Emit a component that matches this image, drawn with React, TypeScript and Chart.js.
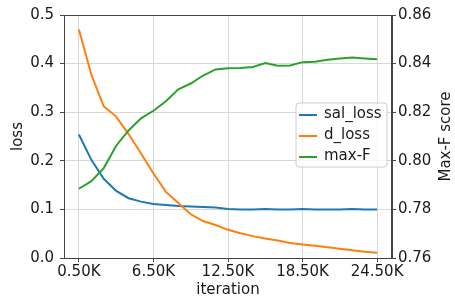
import React, { useEffect, useRef } from "react";
import { Chart, registerables } from "chart.js";

Chart.register(...registerables);

const iterations = [0.5, 1.5, 2.5, 3.5, 4.5, 5.5, 6.5, 7.5, 8.5, 9.5, 10.5, 11.5, 12.5, 13.5, 14.5, 15.5, 16.5, 17.5, 18.5, 19.5, 20.5, 21.5, 22.5, 23.5, 24.5];
const salLoss = [0.254, 0.202, 0.163, 0.138, 0.123, 0.116, 0.111, 0.109, 0.107, 0.106, 0.105, 0.104, 0.101, 0.100, 0.100, 0.101, 0.100, 0.100, 0.101, 0.100, 0.100, 0.100, 0.101, 0.100, 0.100];
const dLoss = [0.470, 0.377, 0.312, 0.291, 0.255, 0.215, 0.174, 0.136, 0.113, 0.090, 0.076, 0.068, 0.058, 0.051, 0.045, 0.040, 0.036, 0.031, 0.028, 0.025, 0.022, 0.019, 0.016, 0.013, 0.011];
const maxF = [0.7885, 0.7916, 0.797, 0.8062, 0.8125, 0.8175, 0.8206, 0.8245, 0.8294, 0.8318, 0.8351, 0.8376, 0.8381, 0.8382, 0.8386, 0.8402, 0.8391, 0.8392, 0.8406, 0.8408, 0.8416, 0.8421, 0.8425, 0.8421, 0.8418];
const xTicks = [0.5, 6.5, 12.5, 18.5, 24.5];
const seriesNames = ["sal_loss", "d_loss", "max-F"];
const colors = ["#1f77b4", "#ff7f0e", "#2ca02c"];

const FONT = "DejaVu Sans";
const TEXT = "#1a1a1a";
const SPINE = "#444";
const GRID = "#d8d8d8";

const pts = (ys: number[]) => ys.map((y, i) => ({ x: iterations[i], y }));

const decor = {
  id: "decor",
  afterDraw(chart: any) {
    const ctx = chart.ctx;
    const a = chart.chartArea;
    ctx.save();
    // frame
    ctx.strokeStyle = SPINE;
    ctx.lineWidth = 1;
    ctx.strokeRect(a.left + 0.5, a.top + 0.5, a.right - a.left - 1, a.bottom - a.top);
    // axis titles
    ctx.fillStyle = TEXT;
    ctx.font = `15px "${FONT}"`;
    ctx.textAlign = "center";
    ctx.textBaseline = "middle";
    const cy = (a.top + a.bottom) / 2;
    ctx.save();
    ctx.translate(18, cy);
    ctx.rotate(-Math.PI / 2);
    ctx.fillText("loss", 0, 0);
    ctx.restore();
    ctx.save();
    ctx.translate(446, cy);
    ctx.rotate(-Math.PI / 2);
    ctx.fillText("Max-F score", 0, 0);
    ctx.restore();
    ctx.fillText("iteration", (a.left + a.right) / 2, 290);
    // legend
    const lx = 296, ly = 103, lw = 91, lh = 64, r = 3;
    ctx.beginPath();
    ctx.moveTo(lx + r, ly);
    ctx.lineTo(lx + lw - r, ly);
    ctx.quadraticCurveTo(lx + lw, ly, lx + lw, ly + r);
    ctx.lineTo(lx + lw, ly + lh - r);
    ctx.quadraticCurveTo(lx + lw, ly + lh, lx + lw - r, ly + lh);
    ctx.lineTo(lx + r, ly + lh);
    ctx.quadraticCurveTo(lx, ly + lh, lx, ly + lh - r);
    ctx.lineTo(lx, ly + r);
    ctx.quadraticCurveTo(lx, ly, lx + r, ly);
    ctx.closePath();
    ctx.fillStyle = "rgba(255,255,255,0.8)";
    ctx.fill();
    ctx.strokeStyle = "#cccccc";
    ctx.lineWidth = 1;
    ctx.stroke();
    ctx.textAlign = "left";
    ctx.textBaseline = "middle";
    seriesNames.forEach((name, i) => {
      const y = 115 + i * 21;
      ctx.strokeStyle = colors[i];
      ctx.lineWidth = 2;
      ctx.beginPath();
      ctx.moveTo(299, y);
      ctx.lineTo(317, y);
      ctx.stroke();
      ctx.fillStyle = TEXT;
      ctx.fillText(name, 324, y - 1);
    });
    ctx.restore();
  },
};

export default function App() {
  const ref = useRef<HTMLCanvasElement>(null);
  useEffect(() => {
    document.body.style.margin = "0";
    const chart = new Chart(ref.current as HTMLCanvasElement, {
      type: "line",
      data: {
        datasets: [
          { label: seriesNames[0], data: pts(salLoss), borderColor: colors[0], yAxisID: "y", order: 2 },
          { label: seriesNames[1], data: pts(dLoss), borderColor: colors[1], yAxisID: "y", order: 1 },
          { label: seriesNames[2], data: pts(maxF), borderColor: colors[2], yAxisID: "y2", order: 0 },
        ].map((d) => ({ ...d, borderWidth: 2, pointRadius: 0, tension: 0, fill: false })),
      },
      options: {
        responsive: false,
        animation: false,
        devicePixelRatio: 1,
        layout: { padding: { top: 11, left: 0, right: 0, bottom: 0 } },
        plugins: { legend: { display: false }, tooltip: { enabled: false } },
        scales: {
          x: {
            type: "linear",
            min: -0.7,
            max: 25.7,
            afterBuildTicks: (s: any) => {
              s.ticks = xTicks.map((v) => ({ value: v }));
            },
            afterFit: (s: any) => {
              s.height = 42;
            },
            ticks: {
              callback: (v: any) => Number(v).toFixed(2) + "K",
              font: { family: FONT, size: 15 },
              color: TEXT,
              padding: 1,
              maxRotation: 0,
              autoSkip: false,
            },
            grid: { color: GRID, tickColor: SPINE, tickLength: 4, lineWidth: 1 },
            border: { color: SPINE, width: 1 },
          },
          y: {
            position: "left",
            min: 0,
            max: 0.5,
            afterFit: (s: any) => {
              s.width = 64;
            },
            ticks: {
              stepSize: 0.1,
              callback: (v: any) => Number(v).toFixed(1),
              font: { family: FONT, size: 15 },
              color: TEXT,
              padding: 6,
            },
            grid: { color: GRID, tickColor: SPINE, tickLength: 4, lineWidth: 1 },
            border: { color: SPINE, width: 1 },
          },
          y2: {
            position: "right",
            min: 0.76,
            max: 0.86,
            afterFit: (s: any) => {
              s.width = 63;
            },
            ticks: {
              stepSize: 0.02,
              callback: (v: any) => Number(v).toFixed(2),
              font: { family: FONT, size: 15 },
              color: TEXT,
              padding: 2,
            },
            grid: { drawOnChartArea: false, tickColor: SPINE, tickLength: 4 },
            border: { color: SPINE, width: 1 },
          },
        },
      },
      plugins: [decor],
    });
    return () => chart.destroy();
  }, []);
  return (
    <div style={{ position: "absolute", left: 0, top: 0, width: 455, height: 300 }}>
      <canvas ref={ref} width={455} height={300} />
    </div>
  );
}
